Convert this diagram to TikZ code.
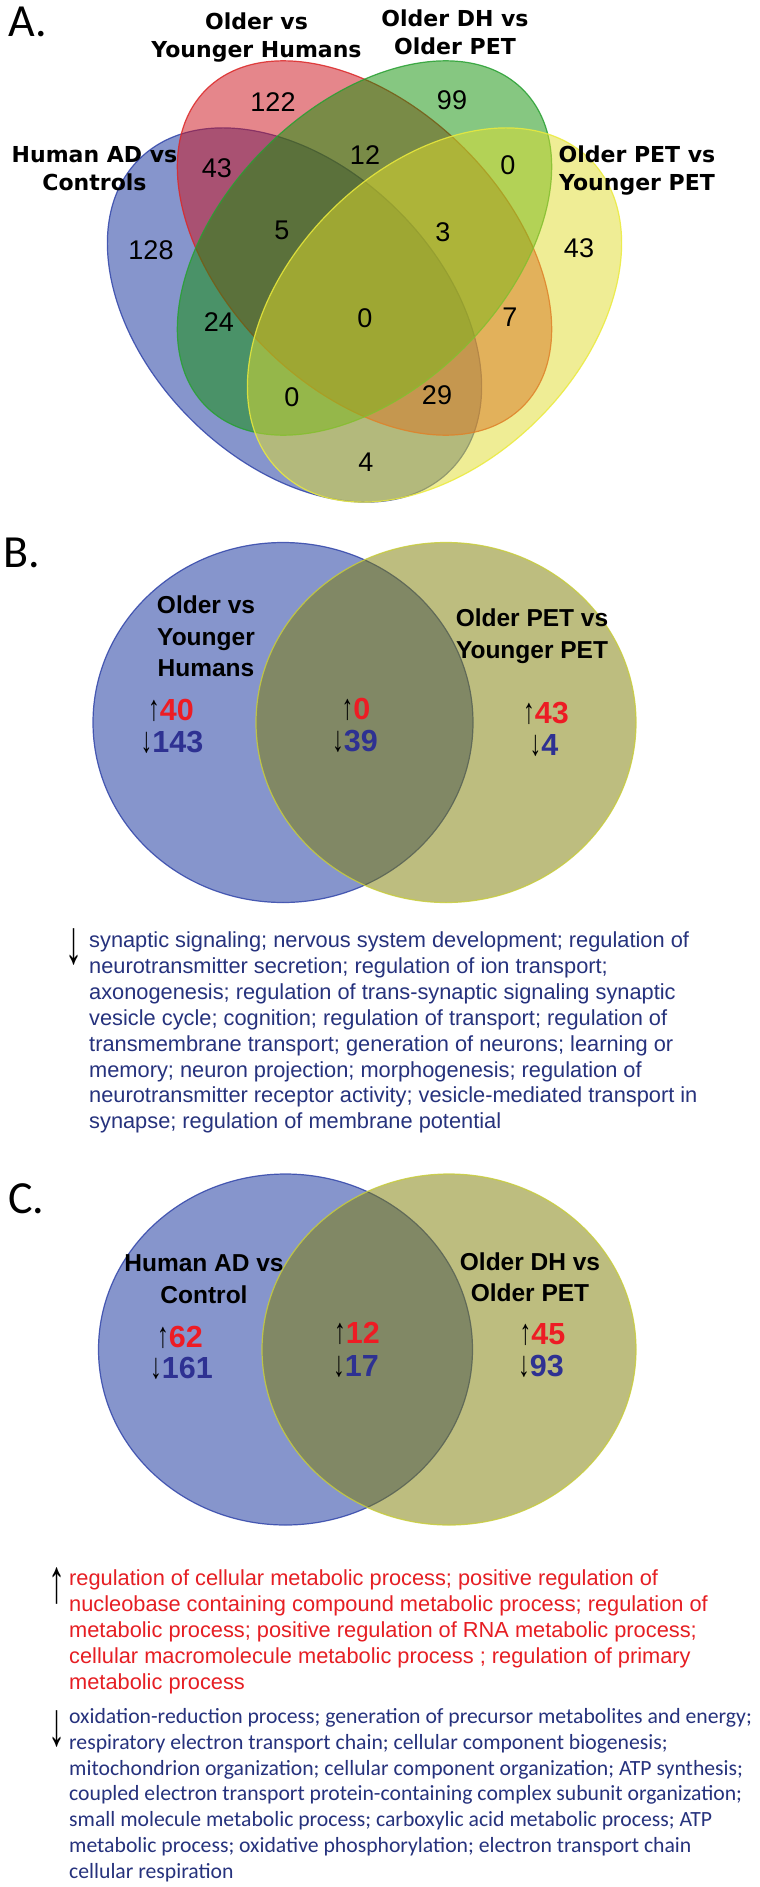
\documentclass[tikz,border=0pt]{standalone}
\usepackage{fontspec}
\setmainfont{Liberation Sans}
\newfontfamily\panelfont{Carlito}
\newfontfamily\setfont{DejaVu Sans}
\newfontfamily\calfont{Carlito}
\newfontfamily\numarrowfont[FakeStretch=0.65]{Liberation Sans}
\newfontfamily\listarrowfont[FakeStretch=0.55]{Liberation Sans}
\usetikzlibrary{positioning}

\definecolor{setblue}{RGB}{15,45,155}
\definecolor{setred}{RGB}{205,15,25}
\definecolor{setgreen}{RGB}{15,145,5}
\definecolor{setyellow}{RGB}{225,221,45}
\definecolor{setolive}{RGB}{125,125,0}
\definecolor{edgeblue}{RGB}{50,70,170}
\definecolor{edgered}{RGB}{220,40,40}
\definecolor{edgegreen}{RGB}{40,160,50}
\definecolor{edgeyellow}{RGB}{235,235,60}
\definecolor{edgeolive}{RGB}{200,205,60}
\definecolor{numred}{RGB}{237,28,36}
\definecolor{numblue}{RGB}{46,49,146}
\definecolor{navytext}{RGB}{38,50,125}
\definecolor{redtext}{RGB}{230,30,35}

\newcommand{\uparr}{{\numarrowfont\mdseries\fontsize{36}{36}\selectfont ↑}}
\newcommand{\dnarr}{{\numarrowfont\mdseries\fontsize{36}{36}\selectfont ↓}}

\begin{document}
\begin{tikzpicture}[x=1pt, y=-1pt,
        vset/.style={
                line width=1.2pt,
                fill opacity=0.5,
                draw opacity=0.85,
        },
        cnt/.style={font=\fontsize{27}{27}\selectfont, inner sep=0pt},
        setlabel/.style={font=\setfont\bfseries\fontsize{22}{28}\selectfont, align=center, inner sep=0pt},
        grplabel/.style={font=\bfseries\fontsize{24.5}{31.5}\selectfont, align=center, inner sep=0pt},
        updown/.style={font=\bfseries\fontsize{30.5}{30.5}\selectfont, inner sep=0pt, anchor=base, text height=22pt, text depth=1pt},
        panel/.style={font=\panelfont\fontsize{46}{46}\selectfont, inner sep=0pt, anchor=base west},
        golist/.style={font=\fontsize{21.8}{25.9}\selectfont, align=left, inner sep=0pt, anchor=north west},
        bigarrow/.style={font=\listarrowfont\fontsize{62}{62}\selectfont, inner sep=0pt},
    ]
    \fill[white] (0,0) rectangle (760,1887);
    \useasboundingbox (0,0) rectangle (760,1887);

    % A: four sets
    \node[panel] (pa) at (8,36) {A.};
    \coordinate (cAD) at (294.5,315);
    \coordinate (cAge) at (364.5,248);
    \coordinate (cPET) at (434.5,315);
    \draw[vset, fill=setblue, draw=edgeblue, rotate around={-45:(cAD)}] (cAD) ellipse [x radius=220, y radius=147];
    \draw[vset, fill=setred, draw=edgered, rotate around={-45:(cAge)}] (cAge) ellipse [x radius=224, y radius=141];
    \draw[vset, fill=setgreen, draw=edgegreen, rotate around={45:(cAge)}] (cAge) ellipse [x radius=224, y radius=141];
    \draw[vset, fill=setyellow, draw=edgeyellow, rotate around={45:(cPET)}] (cPET) ellipse [x radius=220, y radius=147];

    \node[setlabel] (lad) at (94.5,168.5) {Human AD vs\\Controls};
    \node[setlabel] (lage) at (256.5,38) {Older vs\\Younger Humans};
    \node[setlabel] (ldh) at (455,32) {Older DH vs\\Older PET};
    \node[setlabel] (lpet) at (637,170.5) {Older PET vs\\Younger PET};

    \node[cnt] (a128) at (151,250) {128};
    \node[cnt] (a122) at (273,102) {122};
    \node[cnt] (a99) at (452,100) {99};
    \node[cnt] (a43l) at (217,168) {43};
    \node[cnt] (a12) at (365,155) {12};
    \node[cnt] (a0tr) at (508,165) {0};
    \node[cnt] (a43r) at (579,248) {43};
    \node[cnt] (a5) at (282,230) {5};
    \node[cnt] (a3) at (443,232) {3};
    \node[cnt] (a24) at (219,322) {24};
    \node[cnt] (a0c) at (365,318) {0};
    \node[cnt] (a7) at (510,317) {7};
    \node[cnt] (a0bl) at (292,397) {0};
    \node[cnt] (a29) at (437,395) {29};
    \node[cnt] (a4) at (366,462) {4};

    % B: ageing, humans vs PET
    \node[panel] (pb) at (3,567) {B.};
    \coordinate (cBL) at (283,722.5);
    \coordinate (cBR) at (446,722.5);
    \draw[vset, fill=setblue, draw=edgeblue] (cBL) ellipse [x radius=190, y radius=180];
    \draw[vset, fill=setolive, draw=edgeolive] (cBR) ellipse [x radius=190, y radius=180];

    \node[grplabel] (bl) at (206,636.5) {Older vs\\Younger\\Humans};
    \node[grplabel] (br) at (532,636) {Older PET vs\\Younger PET};
    \node[updown] (bup1) at (171,720) {\uparr\textcolor{numred}{40}};
    \node[updown] (bdn1) at (172,752) {\dnarr\textcolor{numblue}{143}};
    \node[updown] (bup2) at (356,719) {\uparr\textcolor{numred}{0}};
    \node[updown] (bdn2) at (355,751) {\dnarr\textcolor{numblue}{39}};
    \node[updown] (bup3) at (546,723) {\uparr\textcolor{numred}{43}};
    \node[updown] (bdn3) at (544,755) {\dnarr\textcolor{numblue}{4}};

    \node[golist, text=navytext] (gob) at (89,931.5) {synaptic signaling; nervous system development; regulation of\\
        neurotransmitter secretion; regulation of ion transport;\\
        axonogenesis; regulation of trans-synaptic signaling synaptic\\
        vesicle cycle; cognition; regulation of transport; regulation of\\
        transmembrane transport; generation of neurons; learning or\\
        memory; neuron projection; morphogenesis; regulation of\\
        neurotransmitter receptor activity; vesicle-mediated transport in\\
        synapse; regulation of membrane potential};
    \node[bigarrow, below left=-3pt and 6pt of gob.north west] (gobar) {↓};

    % C: AD vs DH
    \node[panel] (pc) at (8,1213) {C.};
    \coordinate (cCL) at (285.5,1349.5);
    \coordinate (cCR) at (449,1349.5);
    \draw[vset, fill=setblue, draw=edgeblue] (cCL) ellipse [x radius=187, y radius=175.5];
    \draw[vset, fill=setolive, draw=edgeolive] (cCR) ellipse [x radius=187, y radius=175.5];

    \node[grplabel] (cl) at (204,1279) {Human AD vs\\Control};
    \node[grplabel] (cr) at (530,1277) {Older DH vs\\Older PET};
    \node[updown] (cup1) at (180,1347) {\uparr\textcolor{numred}{62}};
    \node[updown] (cdn1) at (181.5,1378) {\dnarr\textcolor{numblue}{161}};
    \node[updown] (cup2) at (357,1343.5) {\uparr\textcolor{numred}{12}};
    \node[updown] (cdn2) at (356,1376) {\dnarr\textcolor{numblue}{17}};
    \node[updown] (cup3) at (542.5,1344) {\uparr\textcolor{numred}{45}};
    \node[updown] (cdn3) at (541,1376) {\dnarr\textcolor{numblue}{93}};

    \node[golist, text=redtext] (gocu) at (69,1569.5) {regulation of cellular metabolic process; positive regulation of\\
        nucleobase containing compound metabolic process; regulation of\\
        metabolic process; positive regulation of RNA metabolic process;\\
        cellular macromolecule metabolic process ; regulation of primary\\
        metabolic process};
    \node[bigarrow, below left=-2pt and 3pt of gocu.north west] (gocuar) {↑};

    \node[golist, font=\calfont\fontsize{21.7}{25.9}\selectfont, text=navytext] (gocd) at (69,1708) {oxidation-reduction process; generation of precursor metabolites and energy;\\
        respiratory electron transport chain; cellular component biogenesis;\\
        mitochondrion organization; cellular component organization; ATP synthesis;\\
        coupled electron transport protein-containing complex subunit organization;\\
        small molecule metabolic process; carboxylic acid metabolic process; ATP\\
        metabolic process; oxidative phosphorylation; electron transport chain\\
        cellular respiration};
    \node[bigarrow, below left=2pt and 3pt of gocd.north west] (gocdar) {↓};
\end{tikzpicture}
\end{document}
